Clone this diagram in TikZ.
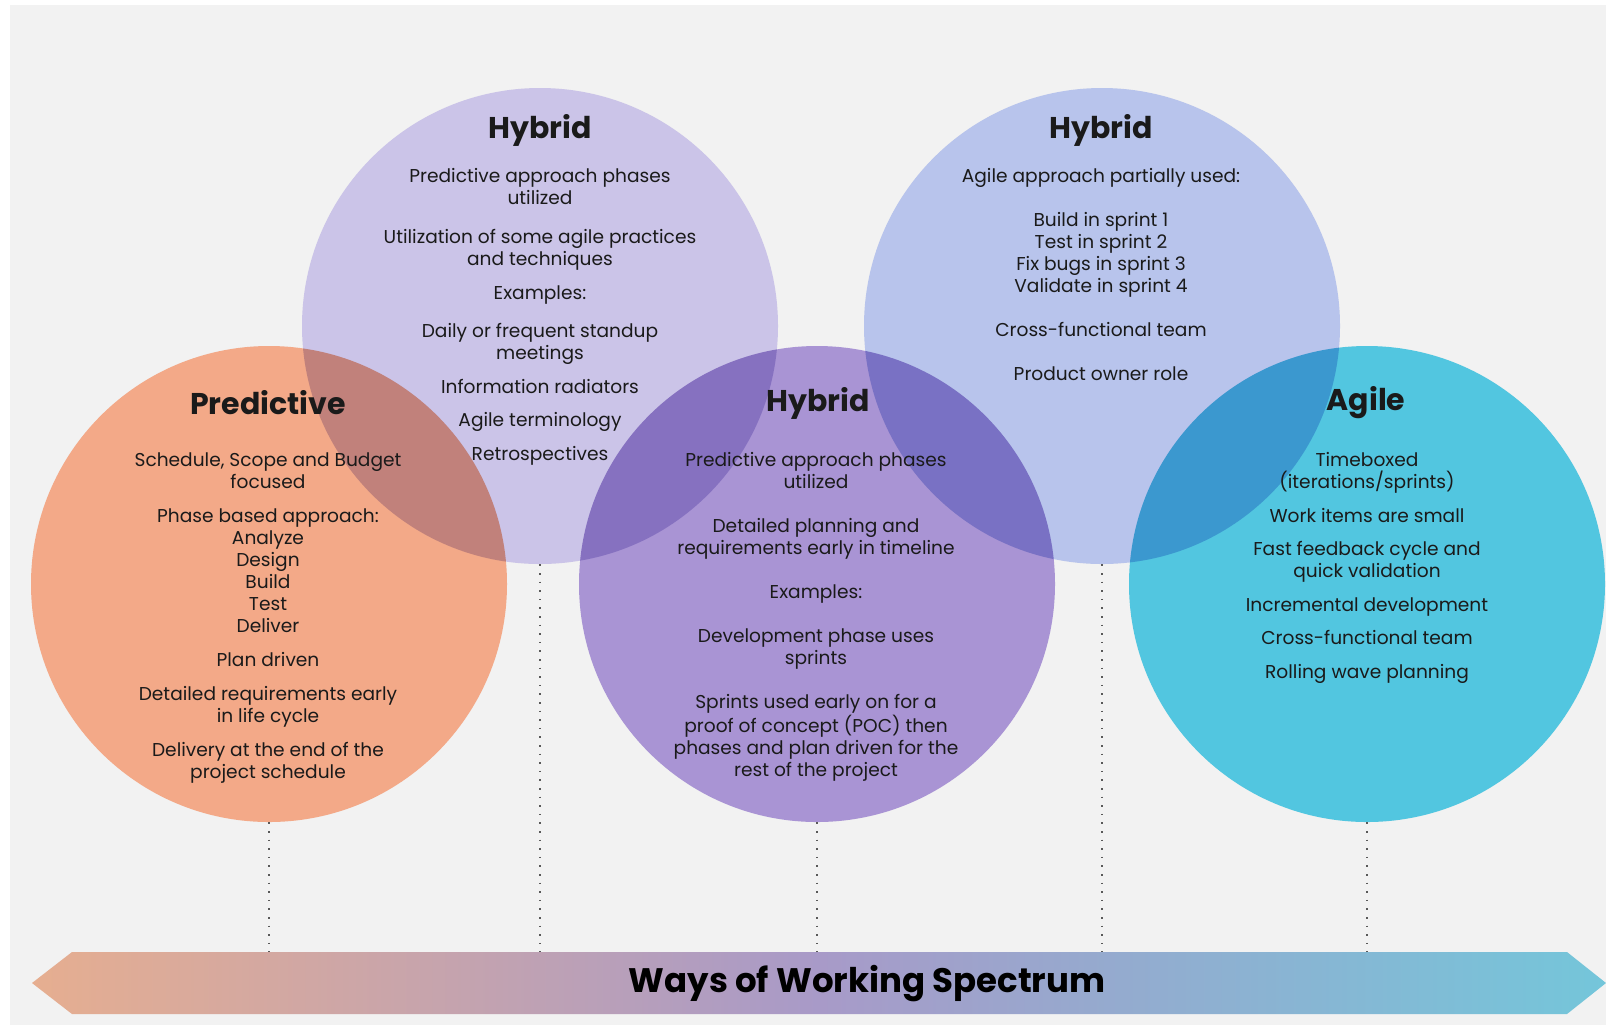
\documentclass[tikz,border=0pt]{standalone}
\usepackage{fontspec}
\setmainfont{Poppins}
\usepackage{xcolor}
\usepackage{tikz}
\usetikzlibrary{positioning, calc}
\definecolor{bgcolor}{RGB}{242,242,242}
\definecolor{predcolor}{RGB}{243,169,136}
\definecolor{hybridA}{RGB}{203,196,232}
\definecolor{hybridB}{RGB}{169,148,212}
\definecolor{hybridC}{RGB}{184,196,236}
\definecolor{agilecolor}{RGB}{82,198,224}
\definecolor{textcolor}{RGB}{26,26,26}
\definecolor{barleft}{RGB}{230,174,144}
\definecolor{barmid}{RGB}{168,154,200}
\definecolor{barright}{RGB}{116,198,218}

\begin{document}
\begin{tikzpicture}[
    x=0.5pt, y=-0.5pt,
    disc/.style={circle, inner sep=0pt, minimum size=238pt},
    title/.style={font=\fontsize{15}{18}\selectfont\bfseries, text=textcolor},
    body/.style={font=\fontsize{9.3}{11}\selectfont, text=textcolor, align=center, anchor=north, inner sep=0pt},
    guide/.style={line width=0.7pt, dash pattern=on 0.8pt off 3.5pt, black!65},
    spectrum/.style={left color=barleft, right color=barright, middle color=barmid}
]
    \useasboundingbox (0,0) rectangle (1606,1025);
    \fill[bgcolor] (10,5) rectangle (1606,1025);

    % Circles
    \node[disc] (hybA) at (540,326) {};
    \node[disc] (hybC) at (1102,326) {};
    \node[disc] (pred) at (269,584) {};
    \node[disc] (hybB) at (817,584) {};
    \node[disc] (agile) at (1367,584) {};
    \foreach \c in {hybA,hybC,pred,hybB,agile}
        \fill[white] (\c.center) circle[radius=119pt];
    \foreach \c/\col in {hybA/hybridA,hybC/hybridC,pred/predcolor,hybB/hybridB,agile/agilecolor}
        \fill[\col, blend mode=multiply] (\c.center) circle[radius=119pt];

    % Spectrum bar
    \shade[spectrum] (32,983) -- (72,952) -- (1567,952) -- (1606,983) -- (1567,1014) -- (72,1014) -- cycle;
    \coordinate (barN) at (817,952);
    \node[font=\fontsize{17}{20}\selectfont\bfseries, text=black] (barlabel) at (867,984) {Ways of Working Spectrum};

    % Guides
    \foreach \c in {pred,hybA,hybB,hybC,agile}
        \draw[guide] (\c.south) -- (\c.south |- barN);

    % Titles
    \node[title] (predtitle) at (268,403) {Predictive};
    \node[title] (hybAtitle) at (540,130) {Hybrid};
    \node[title] (hybBtitle) at (818,403) {Hybrid};
    \node[title] (hybCtitle) at (1101,130) {Hybrid};
    \node[title] (agiletitle) at (1366,403) {Agile};

    % Texts
    \node[body] (predtext) at (268,452) {Schedule, Scope and Budget\\focused\\[6pt]
        Phase based approach:\\Analyze\\Design\\Build\\Test\\Deliver\\[6pt]
        Plan driven\\[6pt]
        Detailed requirements early\\in life cycle\\[6pt]
        Delivery at the end of the\\project schedule};
    \node[body] (hybAtext) at (540,168) {Predictive approach phases\\utilized\\[8.5pt]
        Utilization of some agile practices\\and techniques\\[6pt]
        Examples:\\[8pt]
        Daily or frequent standup\\meetings\\[6pt]
        Information radiators\\[5.5pt]
        Agile terminology\\[6pt]
        Retrospectives};
    \node[body] (hybBtext) at (816,452) {Predictive approach phases\\utilized\\[11pt]
        Detailed planning and\\requirements early in timeline\\[11pt]
        Examples:\\[11pt]
        Development phase uses\\sprints\\[11pt]
        Sprints used early on for a\\proof of concept (POC) then\\phases and plan driven for the\\rest of the project};
    \node[body] (hybCtext) at (1101,168) {Agile approach partially used:\\[11pt]
        Build in sprint 1\\Test in sprint 2\\Fix bugs in sprint 3\\Validate in sprint 4\\[11pt]
        Cross-functional team\\[11pt]
        Product owner role};
    \node[body] (agiletext) at (1367,452) {Timeboxed\\(iterations/sprints)\\[6pt]
        Work items are small\\[5.5pt]
        Fast feedback cycle and\\quick validation\\[6pt]
        Incremental development\\[5.5pt]
        Cross-functional team\\[6pt]
        Rolling wave planning};
\end{tikzpicture}
\end{document}
